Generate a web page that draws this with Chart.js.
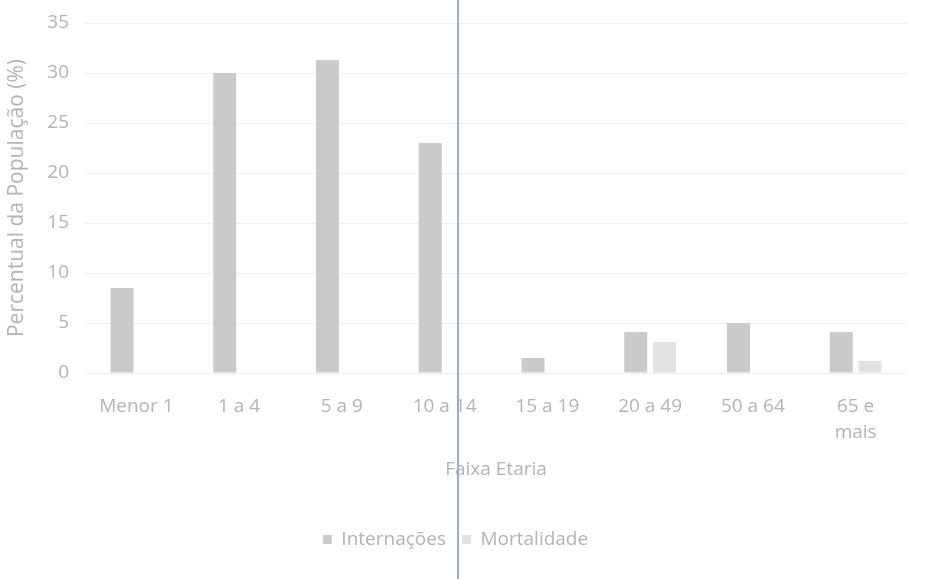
<!DOCTYPE html>
<html>
<head>
<meta charset="utf-8">
<script src="https://cdn.jsdelivr.net/npm/chart.js@4"></script>
<style>
  html, body { margin: 0; padding: 0; background: #fff; }
  #wrap { position: relative; width: 927px; height: 579px; }
  #fold { position: absolute; left: 457px; top: 0; width: 2px; height: 579px; background: #9aabd6; }
</style>
</head>
<body>
<div id="wrap">
  <canvas id="chart" width="927" height="579"></canvas>
  <div id="fold"></div>
</div>
<script>
// faixas etarias
const labels = ['Menor 1', '1 a 4', '5 a 9', '10 a 14', '15 a 19', '20 a 49', '50 a 64', ['65 e', 'mais']];
const internacoes = [8.5, 30, 31.3, 23, 1.5, 4.1, 5, 4.1];
const mortalidade = [0, 0, 0, 0, 0, 3.1, 0, 1.2];
const yTicks = [0, 5, 10, 15, 20, 25, 30, 35];

const textColor = '#b4b4b4';
Chart.defaults.font.family = "'Open Sans', sans-serif";
Chart.defaults.font.size = 19;
Chart.defaults.color = textColor;

new Chart(document.getElementById('chart'), {
  type: 'bar',
  data: {
    labels: labels,
    datasets: [
      { label: 'Internações', data: internacoes, backgroundColor: '#cbcbcb' },
      { label: 'Mortalidade', data: mortalidade, backgroundColor: '#e2e2e2' }
    ]
  },
  options: {
    responsive: false,
    animation: false,
    categoryPercentage: 0.56,
    barPercentage: 0.8,
    layout: { padding: { top: 4, right: 20, left: 4, bottom: 20 } },
    plugins: {
      legend: {
        position: 'bottom',
        labels: { boxWidth: 9, boxHeight: 9, padding: 16, color: textColor }
      },
      tooltip: { enabled: false }
    },
    scales: {
      y: {
        min: 0,
        max: 35,
        afterBuildTicks: axis => { axis.ticks = yTicks.map(v => ({ value: v })); },
        ticks: { padding: 16, color: textColor, font: { lineHeight: 0.8 } },
        grid: { color: '#efefef', drawTicks: false },
        border: { display: false },
        title: { display: true, text: 'Percentual da População (%)', color: textColor, font: { size: 21 }, padding: 0 },
        afterFit: axis => { axis.width = 81; axis.paddingTop = 23; }
      },
      x: {
        grid: { display: false },
        border: { display: false },
        ticks: { padding: 12, maxRotation: 0, autoSkip: false, color: textColor, font: { lineHeight: 1.4 } },
        title: { display: true, text: 'Faixa Etaria', color: textColor, padding: { top: 8, bottom: 33 } },
        afterFit: axis => { axis.height = 141; }
      }
    }
  }
});
</script>
</body>
</html>
